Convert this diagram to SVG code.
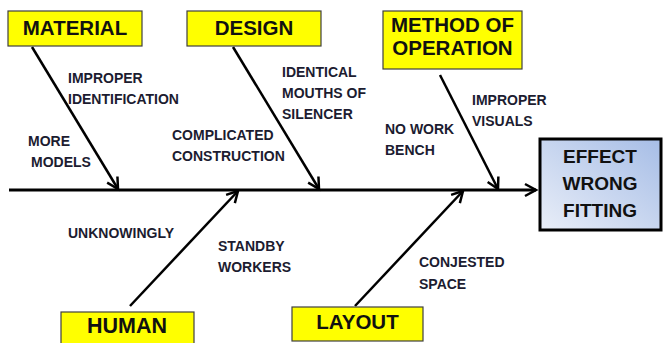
<svg xmlns="http://www.w3.org/2000/svg" width="663" height="343" viewBox="0 0 663 343">
  <style>
    .cat rect { fill: #ffff00; stroke: #404040; stroke-width: 1.2; }
    .cat text { font-family: "Liberation Sans", Arial, sans-serif; font-weight: bold; font-size: 20.5px; fill: #111; text-anchor: middle; }
    .lbl { font-family: "Liberation Sans", Arial, sans-serif; font-weight: bold; font-size: 14px; fill: #1c1c30; }
    .bone { stroke: #000; stroke-width: 2.5; fill: none; marker-end: url(#head); }
    .effect text { font-family: "Liberation Sans", Arial, sans-serif; font-weight: bold; font-size: 19px; fill: #111; text-anchor: middle; }
  </style>
  <defs>
    <marker id="head" markerUnits="userSpaceOnUse" markerWidth="16" markerHeight="16" refX="12" refY="7" orient="auto" viewBox="0 0 16 14">
      <path d="M1,1 L12,7 L1,13" fill="none" stroke="#000" stroke-width="2.5" stroke-linejoin="miter"/>
    </marker>
    <linearGradient id="effectFill" x1="0" y1="1" x2="1" y2="0">
      <stop offset="0" stop-color="#e9eef8"/>
      <stop offset="1" stop-color="#a6bde6"/>
    </linearGradient>
  </defs>

  <!-- spine and ribs -->
  <g id="connectors">
    <line class="bone" x1="9" y1="190" x2="536" y2="190" style="stroke-width:3"/>
    <line class="bone" x1="32" y1="47" x2="118" y2="189"/>
    <line class="bone" x1="233" y1="47" x2="319" y2="189"/>
    <line class="bone" x1="440" y1="75" x2="498" y2="189"/>
    <line class="bone" x1="130" y1="306" x2="238" y2="191"/>
    <line class="bone" x1="355" y1="306" x2="463" y2="191"/>
  </g>

  <!-- cause categories -->
  <g id="material" class="cat">
    <rect x="8" y="11" width="134" height="35"/>
    <text x="75" y="35">MATERIAL</text>
  </g>
  <g id="design" class="cat">
    <rect x="187" y="11" width="134" height="35"/>
    <text x="254" y="35">DESIGN</text>
  </g>
  <g id="method" class="cat">
    <rect x="383" y="11" width="139" height="58"/>
    <text x="452.5" y="32">METHOD OF</text>
    <text x="452.5" y="55">OPERATION</text>
  </g>
  <g id="human" class="cat">
    <rect x="61" y="312" width="133" height="36"/>
    <text x="127" y="333" style="font-size:21.5px">HUMAN</text>
  </g>
  <g id="layout" class="cat">
    <rect x="292" y="307" width="131" height="34"/>
    <text x="357.5" y="329">LAYOUT</text>
  </g>

  <!-- effect -->
  <g id="effect" class="effect">
    <rect x="540" y="139" width="121" height="91" fill="url(#effectFill)" stroke="#000" stroke-width="3"/>
    <text x="600" y="163">EFFECT</text>
    <text x="600" y="190">WRONG</text>
    <text x="600" y="217">FITTING</text>
  </g>

  <!-- causes -->
  <g id="causes">
    <text class="lbl" x="68" y="83">IMPROPER</text>
    <text class="lbl" x="68" y="104">IDENTIFICATION</text>
    <text class="lbl" x="28" y="146">MORE</text>
    <text class="lbl" x="31" y="167">MODELS</text>
    <text class="lbl" x="172" y="140">COMPLICATED</text>
    <text class="lbl" x="172" y="161">CONSTRUCTION</text>
    <text class="lbl" x="282" y="77">IDENTICAL</text>
    <text class="lbl" x="282" y="98">MOUTHS OF</text>
    <text class="lbl" x="282" y="119">SILENCER</text>
    <text class="lbl" x="385" y="134">NO WORK</text>
    <text class="lbl" x="385" y="155">BENCH</text>
    <text class="lbl" x="472" y="105">IMPROPER</text>
    <text class="lbl" x="472" y="126">VISUALS</text>
    <text class="lbl" x="68" y="238">UNKNOWINGLY</text>
    <text class="lbl" x="218" y="251">STANDBY</text>
    <text class="lbl" x="218" y="272">WORKERS</text>
    <text class="lbl" x="419" y="267">CONJESTED</text>
    <text class="lbl" x="419" y="289">SPACE</text>
  </g>
</svg>
